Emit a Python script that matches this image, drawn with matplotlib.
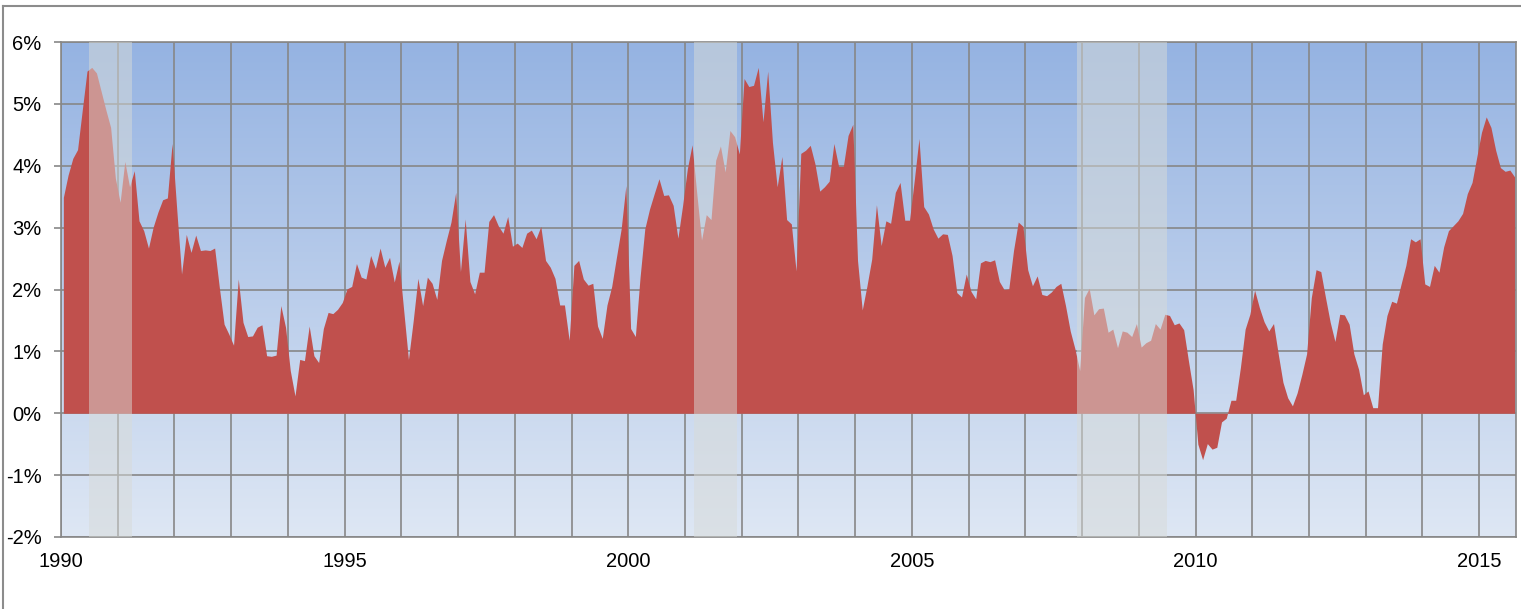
import numpy as np
import matplotlib
matplotlib.use("Agg")
from matplotlib import pyplot as plt
from matplotlib import ticker as ticker
from matplotlib.colors import LinearSegmentedColormap
from matplotlib.lines import Line2D

# Monthly values (%), Jan 1990 - Aug 2015
start_year = 1990
vals_1990_1994 = [
    3.49, 3.85, 4.12, 4.26, 4.90, 5.53, 5.59, 5.50, 5.20, 4.90, 4.62, 3.80,
    3.41, 4.07, 3.66, 3.92, 3.11, 2.95, 2.67, 3.01, 3.25, 3.45, 3.48, 4.36,
    3.28, 2.25, 2.89, 2.60, 2.88, 2.63, 2.64, 2.63, 2.67, 2.03, 1.44, 1.28,
    1.10, 2.17, 1.47, 1.24, 1.25, 1.39, 1.43, 0.93, 0.92, 0.94, 1.74, 1.39,
    0.69, 0.28, 0.87, 0.85, 1.41, 0.93, 0.82, 1.37, 1.63, 1.61, 1.68, 1.79,
]
vals_1995_1999 = [
    2.01, 2.05, 2.42, 2.20, 2.17, 2.55, 2.34, 2.67, 2.36, 2.52, 2.12, 2.46,
    1.66, 0.87, 1.49, 2.18, 1.74, 2.20, 2.10, 1.84, 2.47, 2.79, 3.09, 3.57,
    2.29, 3.14, 2.13, 1.93, 2.28, 2.28, 3.10, 3.21, 3.03, 2.91, 3.18, 2.70,
    2.75, 2.68, 2.91, 2.96, 2.82, 3.02, 2.47, 2.36, 2.18, 1.75, 1.75, 1.18,
    2.39, 2.47, 2.17, 2.07, 2.10, 1.41, 1.21, 1.75, 2.05, 2.52, 2.98, 3.68,
]
vals_2000_2004 = [
    1.37, 1.24, 2.20, 2.98, 3.30, 3.55, 3.79, 3.52, 3.53, 3.36, 2.83, 3.36,
    3.95, 4.34, 3.55, 2.80, 3.21, 3.13, 4.09, 4.32, 3.90, 4.57, 4.47, 4.19,
    5.41, 5.28, 5.30, 5.59, 4.71, 5.53, 4.38, 3.66, 4.15, 3.13, 3.06, 2.30,
    4.20, 4.25, 4.33, 4.03, 3.59, 3.66, 3.75, 4.36, 3.99, 3.99, 4.49, 4.67,
    2.47, 1.67, 2.06, 2.49, 3.37, 2.71, 3.11, 3.07, 3.57, 3.73, 3.12, 3.12,
]
vals_2005_2009 = [
    3.76, 4.44, 3.34, 3.22, 2.98, 2.83, 2.90, 2.89, 2.55, 1.95, 1.88, 2.25,
    1.97, 1.85, 2.43, 2.47, 2.45, 2.48, 2.13, 2.00, 2.01, 2.63, 3.09, 3.02,
    2.32, 2.06, 2.22, 1.92, 1.90, 1.96, 2.05, 2.10, 1.74, 1.33, 1.04, 0.69,
    1.87, 2.02, 1.59, 1.69, 1.70, 1.31, 1.36, 1.06, 1.33, 1.31, 1.24, 1.45,
    1.07, 1.14, 1.18, 1.45, 1.36, 1.60, 1.58, 1.43, 1.46, 1.35, 0.85, 0.38,
]
vals_2010_2015 = [
    -0.50, -0.75, -0.49, -0.58, -0.55, -0.14, -0.08, 0.21, 0.21, 0.74, 1.36, 1.60,
    1.99, 1.71, 1.48, 1.33, 1.45, 0.96, 0.50, 0.25, 0.12, 0.33, 0.63, 0.96,
    1.87, 2.32, 2.29, 1.87, 1.47, 1.16, 1.60, 1.59, 1.44, 0.96, 0.71, 0.30,
    0.36, 0.09, 0.09, 1.12, 1.58, 1.81, 1.78, 2.09, 2.39, 2.82, 2.77, 2.82,
    2.09, 2.05, 2.39, 2.28, 2.69, 2.95, 3.03, 3.11, 3.23, 3.55, 3.73, 4.14,
    4.54, 4.79, 4.62, 4.25, 3.97, 3.91, 3.93, 3.82,
]

# Recession periods (fractional years)
recession_starts = [1990.5, 2001.167, 2007.917]
recession_ends = [1991.25, 2001.917, 2009.5]

y_ticks = [-2, -1, 0, 1, 2, 3, 4, 5, 6]
label_years = [1990, 1995, 2000, 2005, 2010, 2015]

plt.rcParams['font.family'] = ['Liberation Sans Narrow', 'Liberation Sans', 'DejaVu Sans']

values = np.array(vals_1990_1994 + vals_1995_1999 + vals_2000_2004 + vals_2005_2009 + vals_2010_2015)
# mid-month positions
months = start_year + (np.arange(len(values)) + 0.5) / 12.0

W, H = 1521, 609
fig = plt.figure(figsize=(W / 100, H / 100), dpi=100)
ax = fig.add_axes([61 / W, (H - 537) / H, (1516 - 61) / W, (537 - 42) / H])

x_min, x_max = 1990, 2015.65
y_min, y_max = -2, 6

# Gradient background
grad_cmap = LinearSegmentedColormap.from_list("bg", ["#DEE7F4", "#95B3E2"])
grad = np.linspace(0, 1, 256).reshape(-1, 1)
ax.imshow(grad, extent=[x_min, x_max, y_min, y_max], origin="lower", aspect="auto",
          cmap=grad_cmap, zorder=0, interpolation="bicubic")

# Area
ax.fill_between(months, 0, values, color="#C0504D", linewidth=0, zorder=2)

# Recession bands
for s, e in zip(recession_starts, recession_ends):
    ax.axvspan(s, e, color="#D8DBD8", alpha=0.5, linewidth=0, zorder=3)

ax.set_xlim(x_min, x_max)
ax.set_ylim(y_min, y_max)

# Grid: every year vertically, every 1% horizontally
ax.set_xticks(label_years)
ax.set_xticklabels([str(y) for y in label_years])
ax.xaxis.set_minor_locator(ticker.MultipleLocator(1))
ax.set_yticks(y_ticks)
ax.set_yticklabels(["%d%%" % v for v in y_ticks])
ax.set_axisbelow(True)
ax.grid(True, which="both", color="#878787", linewidth=1.2)

ax.tick_params(axis="x", which="both", length=0, pad=11, labelsize=14.5)
ax.tick_params(axis="y", length=5, width=1.2, color="#878787", pad=9, labelsize=14.5)

for sp in ax.spines.values():
    sp.set_color("#878787")
    sp.set_linewidth(1.2)

# Outer frame (left and top edges visible)
fx = 3 / W
fy = 1 - 6 / H
fig.add_artist(Line2D([fx, fx], [0, fy], transform=fig.transFigure, color="#8C8C8C", linewidth=1.5))
fig.add_artist(Line2D([fx, 1], [fy, fy], transform=fig.transFigure, color="#8C8C8C", linewidth=1.5))

plt.savefig("out.png", dpi=100)
plt.close()
